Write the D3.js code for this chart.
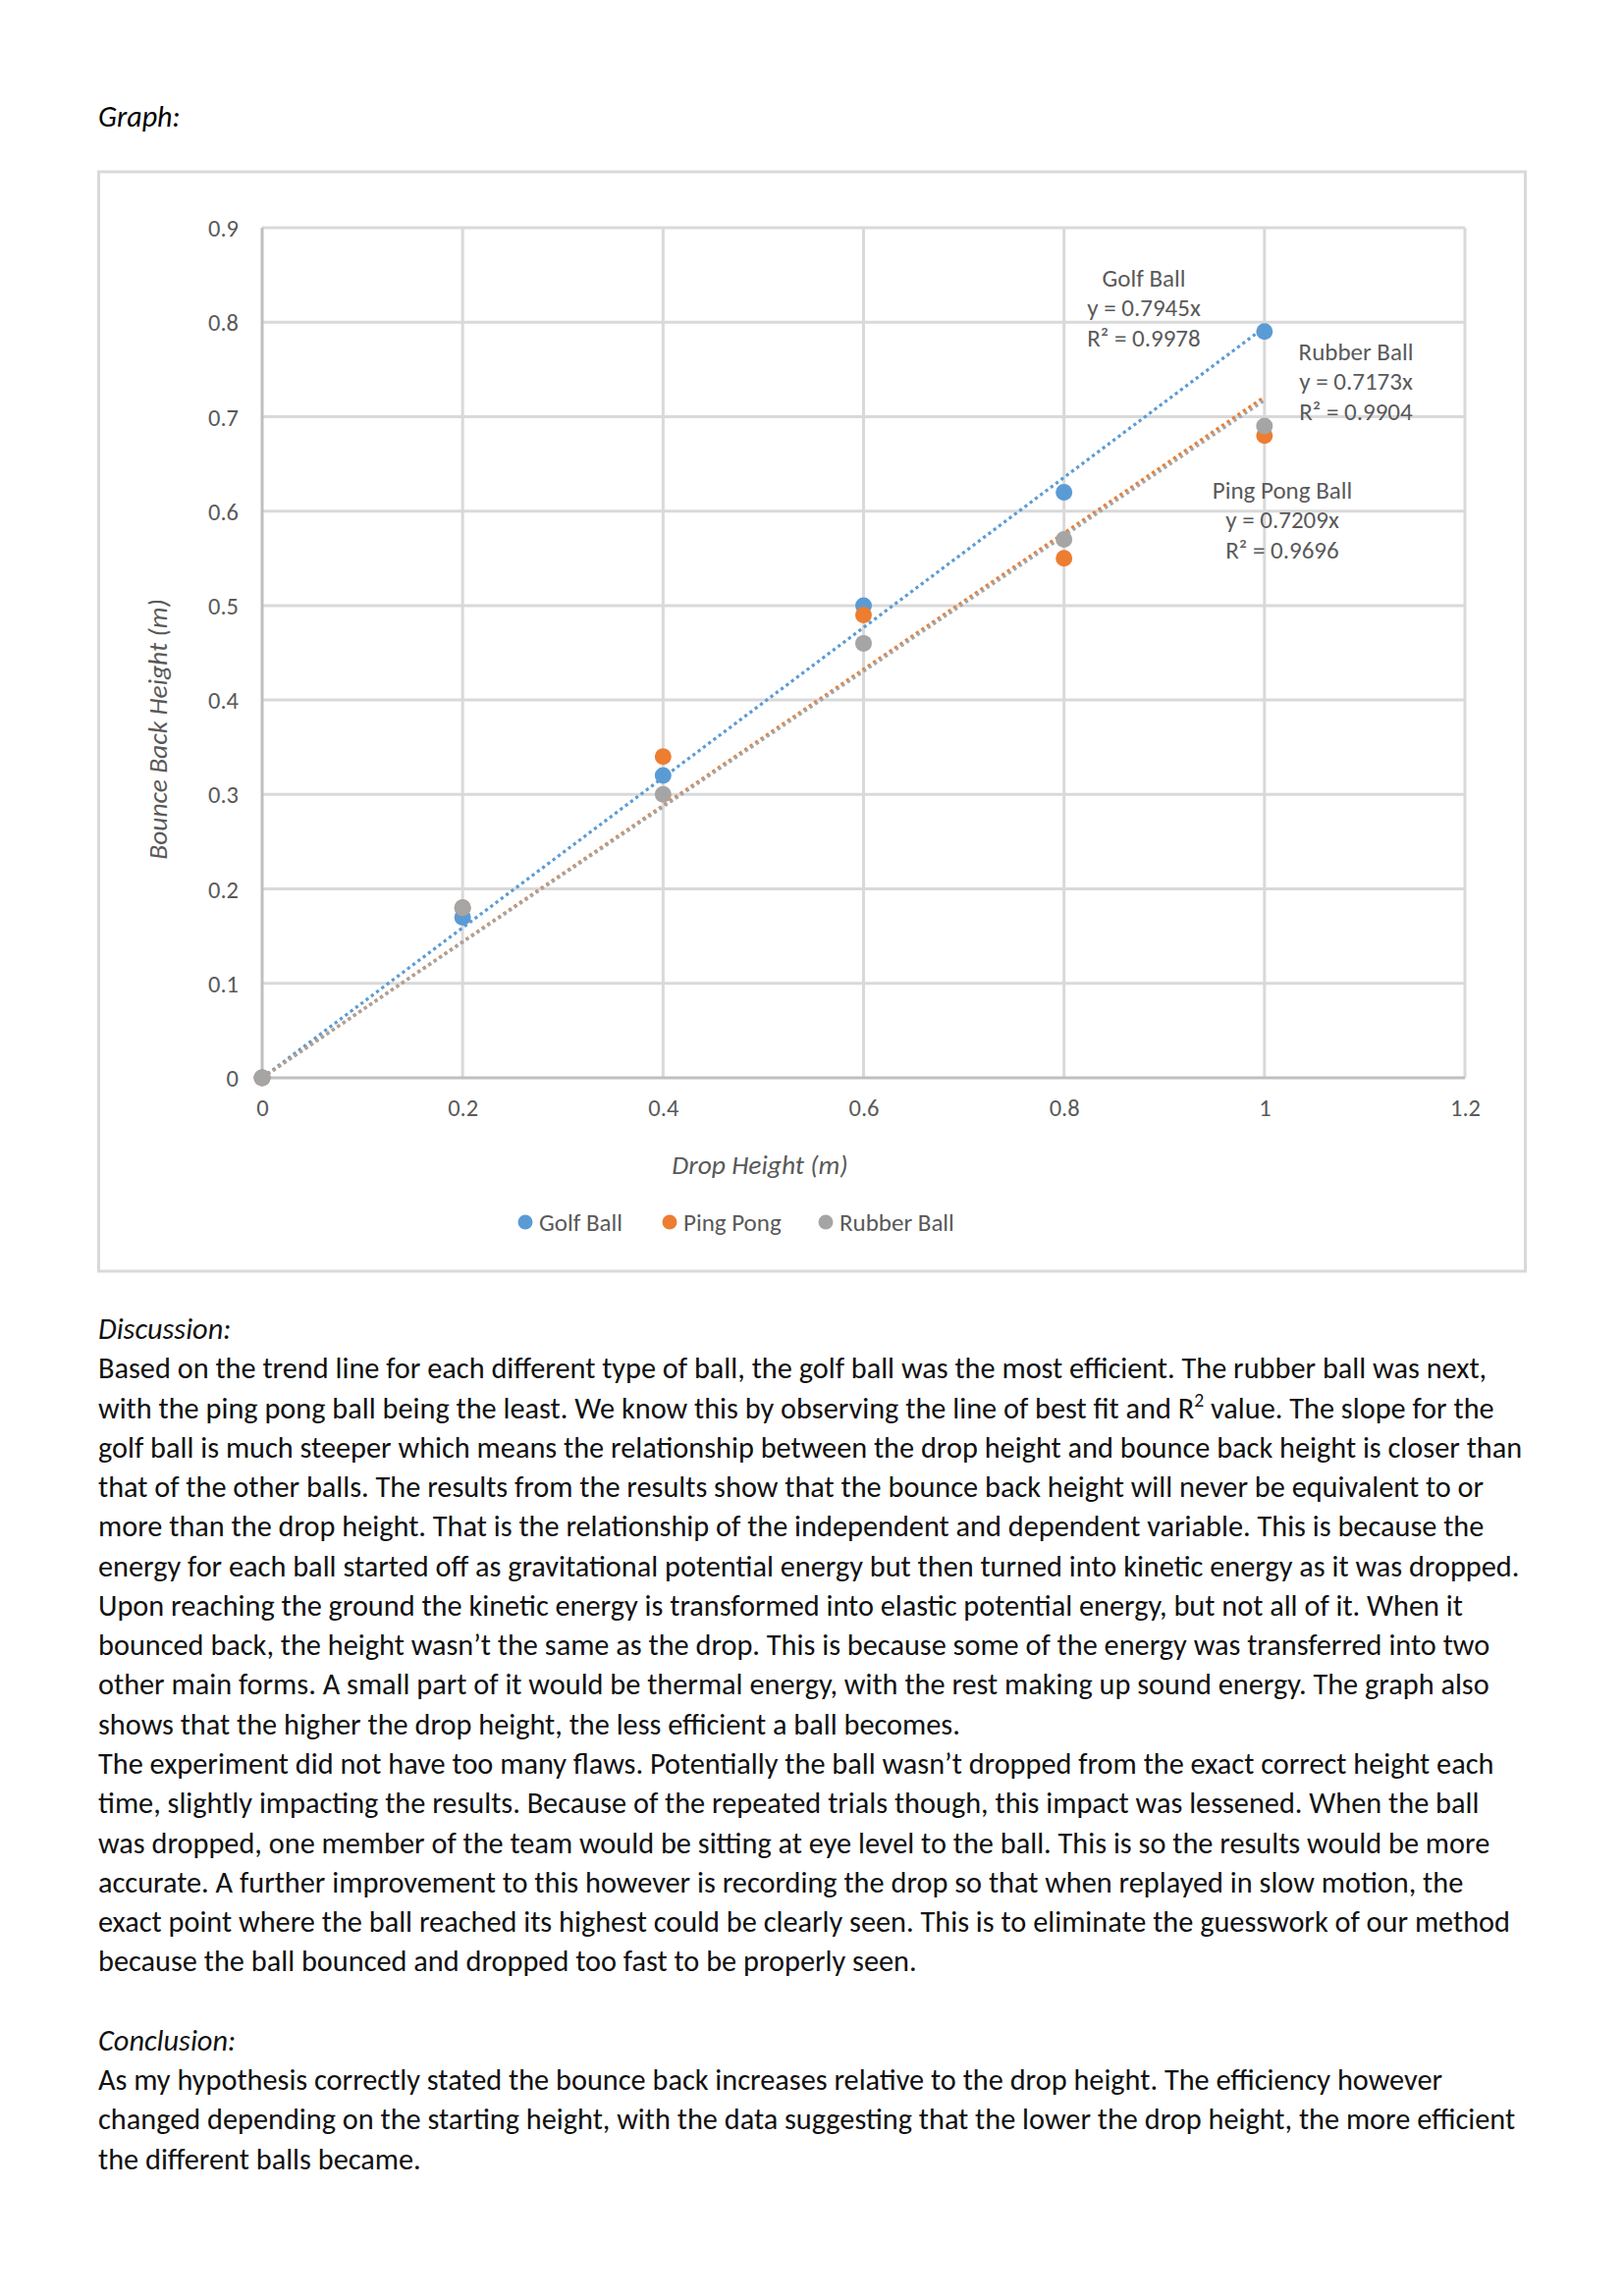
<!DOCTYPE html>
<html><head><meta charset="utf-8">
<script src="https://cdn.jsdelivr.net/npm/d3@7"></script>
<style>body{margin:0;background:#fff}svg{display:block}</style>
</head><body>
<script>
// ---- data ----
const dropHeights = [0, 0.2, 0.4, 0.6, 0.8, 1];
const golfBall    = [0, 0.17, 0.32, 0.50, 0.62, 0.79];
const pingPong    = [0, 0.18, 0.34, 0.49, 0.55, 0.68];
const rubberBall  = [0, 0.18, 0.30, 0.46, 0.57, 0.69];
const seriesNames = ["Golf Ball", "Ping Pong", "Rubber Ball"];
const trendNames  = ["Golf Ball", "Ping Pong Ball", "Rubber Ball"];
const rSquared    = ["0.9978", "0.9696", "0.9904"];
const xTicks = [0, 0.2, 0.4, 0.6, 0.8, 1, 1.2];
const yTicks = [0, 0.1, 0.2, 0.3, 0.4, 0.5, 0.6, 0.7, 0.8, 0.9];
const xTitle = "Drop Height (m)";
const yTitle = "Bounce Back Height (m)";
const discussionLines = [
 "Based on the trend line for each different type of ball, the golf ball was the most efficient. The rubber ball was next,",
 "with the ping pong ball being the least. We know this by observing the line of best fit and R|2| value. The slope for the",
 "golf ball is much steeper which means the relationship between the drop height and bounce back height is closer than",
 "that of the other balls. The results from the results show that the bounce back height will never be equivalent to or",
 "more than the drop height. That is the relationship of the independent and dependent variable. This is because the",
 "energy for each ball started off as gravitational potential energy but then turned into kinetic energy as it was dropped.",
 "Upon reaching the ground the kinetic energy is transformed into elastic potential energy, but not all of it. When it",
 "bounced back, the height wasn’t the same as the drop. This is because some of the energy was transferred into two",
 "other main forms. A small part of it would be thermal energy, with the rest making up sound energy. The graph also",
 "shows that the higher the drop height, the less efficient a ball becomes.",
 "The experiment did not have too many flaws. Potentially the ball wasn’t dropped from the exact correct height each",
 "time, slightly impacting the results. Because of the repeated trials though, this impact was lessened. When the ball",
 "was dropped, one member of the team would be sitting at eye level to the ball. This is so the results would be more",
 "accurate. A further improvement to this however is recording the drop so that when replayed in slow motion, the",
 "exact point where the ball reached its highest could be clearly seen. This is to eliminate the guesswork of our method",
 "because the ball bounced and dropped too fast to be properly seen."
];
const conclusionLines = [
 "As my hypothesis correctly stated the bounce back increases relative to the drop height. The efficiency however",
 "changed depending on the starting height, with the data suggesting that the lower the drop height, the more efficient",
 "the different balls became."
];

// ---- setup ----
const W = 1654, H = 2339;
const FONT = "Carlito, Lato, 'Noto Sans', sans-serif";
const svg = d3.select("body").append("svg").attr("width", W).attr("height", H)
  .style("font-family", FONT);
svg.append("rect").attr("width", W).attr("height", H).attr("fill", "#fff");

const colors = ["#5b9bd5", "#ed7d31", "#a5a5a5"];
const series = [golfBall, pingPong, rubberBall];

// heading
svg.append("text").attr("x", 100).attr("y", 129).attr("font-size", 30)
  .attr("font-style", "italic").attr("fill", "#000").text("Graph:");

// chart frame
svg.append("rect").attr("x", 100.5).attr("y", 175).attr("width", 1453).attr("height", 1120)
  .attr("fill", "none").attr("stroke", "#d9d9d9").attr("stroke-width", 3);

const x = d3.scaleLinear().domain([0, 1.2]).range([267, 1492]);
const y = d3.scaleLinear().domain([0, 0.9]).range([1098, 232]);

// gridlines
const grid = svg.append("g");
grid.selectAll(".hg").data(yTicks.filter(d => d > 0)).join("line")
  .attr("x1", x(0)).attr("x2", x(1.2)).attr("y1", d => y(d)).attr("y2", d => y(d))
  .attr("stroke", "#d9d9d9").attr("stroke-width", 3);
grid.selectAll(".vg").data(xTicks.filter(d => d > 0)).join("line")
  .attr("y1", y(0)).attr("y2", y(0.9)).attr("x1", d => x(d)).attr("x2", d => x(d))
  .attr("stroke", "#d9d9d9").attr("stroke-width", 3);

// axes via d3-axis
const yAxis = svg.append("g").attr("transform", `translate(${x(0)},0)`)
  .call(d3.axisLeft(y).tickValues(yTicks).tickSize(0).tickPadding(24)
    .tickFormat(d => d3.format("~g")(+d.toFixed(2))));
const xAxis = svg.append("g").attr("transform", `translate(0,${y(0)})`)
  .call(d3.axisBottom(x).tickValues(xTicks).tickSize(0).tickPadding(22)
    .tickFormat(d => d3.format("~g")(+d.toFixed(2))));
[xAxis, yAxis].forEach(a => {
  a.select(".domain").attr("stroke", "#bfbfbf").attr("stroke-width", 3);
  a.selectAll("text").attr("font-size", 24.5).attr("fill", "#595959").style("font-family", FONT);
});
yAxis.select(".domain").attr("d", `M0,${y(0)}V${y(0.9)}`);
xAxis.select(".domain").attr("d", `M${x(0)},0H${x(1.2)}`);
yAxis.selectAll("text").attr("dy", "0.35em");

// axis titles
svg.append("text").attr("x", 774).attr("y", 1196).attr("text-anchor", "middle")
  .attr("font-size", 27.5).attr("font-style", "italic").attr("fill", "#595959").text(xTitle);
svg.append("text").attr("transform", "translate(170,743) rotate(-90)").attr("text-anchor", "middle")
  .attr("font-size", 27.5).attr("font-style", "italic").attr("fill", "#595959").text(yTitle);

// trendlines (least squares through origin)
const slopes = series.map(s => d3.sum(s, (v, i) => v * dropHeights[i]) / d3.sum(dropHeights, v => v * v));
const line = d3.line().x(d => x(d[0])).y(d => y(d[1]));
slopes.forEach((m, k) => {
  svg.append("path").attr("d", line([[0, 0], [1, m]]))
    .attr("fill", "none").attr("stroke", colors[k]).attr("stroke-width", 3.2)
    .attr("stroke-dasharray", "3.2,3.4");
});

// points
series.forEach((s, k) => {
  svg.append("g").selectAll("circle").data(s).join("circle")
    .attr("cx", (d, i) => x(dropHeights[i])).attr("cy", d => y(d)).attr("r", 8.5)
    .attr("fill", colors[k]);
});

// trendline labels
const labelPos = [[1165, 283], [1306, 499], [1381, 358]];
slopes.forEach((m, k) => {
  const g = svg.append("g").attr("font-size", 25).attr("fill", "#595959").attr("text-anchor", "middle");
  const [cx, cy] = labelPos[k];
  const lines = [trendNames[k], "y = " + m.toFixed(4) + "x", "R² = " + rSquared[k]];
  lines.forEach((t, i) => g.append("text").attr("x", cx).attr("y", cy + i * 30.5).attr("dy", "0.35em").text(t));
});

// legend
const legX = [535, 682, 841];
seriesNames.forEach((n, k) => {
  svg.append("circle").attr("cx", legX[k]).attr("cy", 1245).attr("r", 7.5).attr("fill", colors[k]);
  svg.append("text").attr("x", legX[k] + 14).attr("y", 1245).attr("dy", "0.35em")
    .attr("font-size", 25).attr("fill", "#595959").text(n);
});

// ---- body text ----
const bodyG = svg.append("g").attr("fill", "#111");
// fit font size so that line 1 spans the same width as in the page
const probe = bodyG.append("text").attr("font-size", 30).text(discussionLines[0]);
const w0 = probe.node().getComputedTextLength();
probe.remove();
const fs = 30 * 1415 / w0;
bodyG.attr("font-size", fs);
const lineY = i => 1354 + i * 40.27 + 10;
const all = [{t: "Discussion:", it: true}]
  .concat(discussionLines.map(t => ({t})))
  .concat([{t: ""}, {t: "Conclusion:", it: true}])
  .concat(conclusionLines.map(t => ({t})));
all.forEach((d, i) => {
  if (!d.t) return;
  const tx = bodyG.append("text").attr("x", 100).attr("y", lineY(i));
  if (d.it) tx.attr("font-style", "italic");
  const parts = d.t.split("|");
  parts.forEach((p, j) => {
    const ts = tx.append("tspan").text(p);
    if (j % 2 === 1) ts.attr("font-size", fs * 0.65).attr("dy", -fs * 0.38);
    else if (j > 0) ts.attr("dy", fs * 0.38);
  });
});
</script>
</body></html>
